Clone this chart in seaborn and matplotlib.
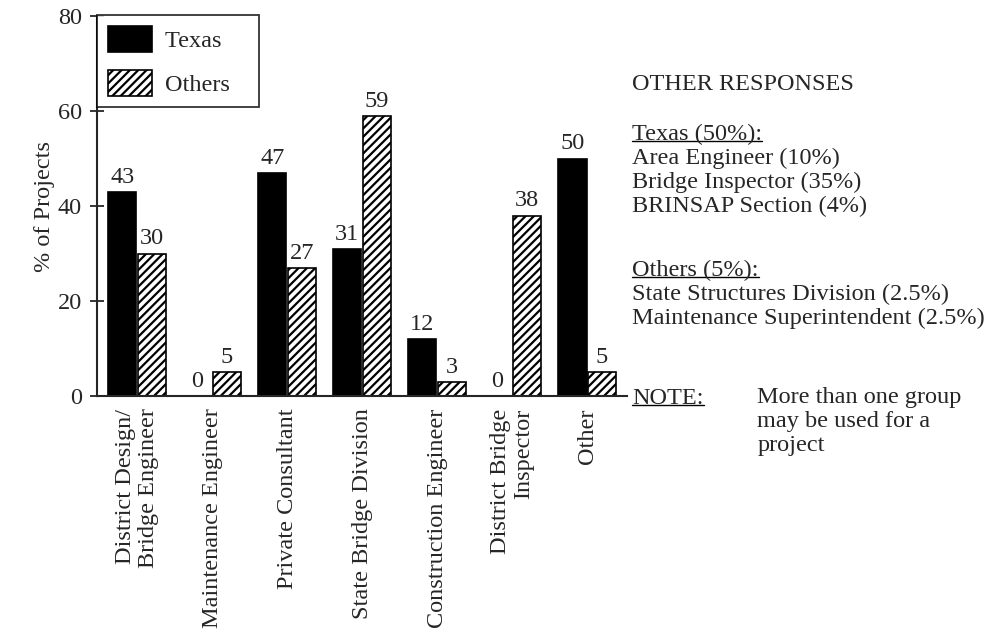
import numpy as np
import pandas as pd
import matplotlib
matplotlib.use("Agg")
import matplotlib.pyplot as plt
import seaborn as sns

# =========================
# DATA
# =========================
categories = [
    "District Design/\nBridge Engineer",
    "Maintenance Engineer",
    "Private Consultant",
    "State Bridge Division",
    "Construction Engineer",
    "District Bridge\nInspector",
    "Other",
]
texas = [43, 0, 47, 31, 12, 0, 50]
others = [30, 5, 27, 59, 3, 38, 5]
groups = ["Texas", "Others"]
y_ticks = [0, 20, 40, 60, 80]

df = pd.DataFrame({
    "category": categories * 2,
    "group": ["Texas"] * len(categories) + ["Others"] * len(categories),
    "value": texas + others,
})

# =========================
# STYLE
# =========================
sns.set_style("ticks")
plt.rcParams["font.family"] = ["Liberation Serif", "DejaVu Serif"]
plt.rcParams["hatch.linewidth"] = 1.6
FS = 17.5

fig = plt.figure(figsize=(9.86, 6.3), dpi=100)
ax = fig.add_axes([0.0984, 0.3714, 0.5376, 0.6032])

sns.barplot(data=df, x="category", y="value", hue="group",
            hue_order=groups, palette=["black", "white"],
            width=0.78, gap=0.04, edgecolor="black", linewidth=1.2,
            saturation=1, ax=ax, legend=True)

# hatch the "Others" bars
for bar in ax.containers[1]:
    bar.set_hatch("////")

for cont in ax.containers:
    ax.bar_label(cont, fmt="%d", fontsize=FS, padding=3)

ax.set_xlim(-0.533, 6.533)
ax.set_ylim(0, 80)
ax.set_yticks(y_ticks)
ax.set_xlabel("")
ax.set_ylabel("% of Projects", fontsize=FS, labelpad=2)
ax.tick_params(axis="y", labelsize=FS, direction="inout", length=10, width=1.3, pad=6)
ax.tick_params(axis="x", length=0, pad=9)
ax.set_xticks(range(len(categories)))
ax.set_xticklabels(categories, rotation=90, fontsize=FS,
                   va="top", ha="center", multialignment="right",
                   linespacing=1.15)
for s in ["top", "right"]:
    ax.spines[s].set_visible(False)
ax.spines["left"].set_linewidth(1.5)
ax.spines["bottom"].set_linewidth(1.5)

leg = ax.get_legend()
handles = leg.legend_handles
leg.remove()
for h in handles:
    h.set_edgecolor("black")
handles[1].set_hatch("////")
leg = ax.legend(handles, [g + "   " for g in groups], loc="upper left",
                bbox_to_anchor=(0.0, 1.003),
                fontsize=FS, frameon=True, fancybox=False, edgecolor="black",
                handlelength=1.8, handleheight=1.25, borderpad=0.45,
                labelspacing=0.75, handletextpad=0.55, borderaxespad=0)
leg.get_frame().set_linewidth(1.3)

# =========================
# SIDE NOTES
# =========================
underline = []
tx = 0.641
def put(x, y_px, s, ul=False):
    t = fig.text(x, 1 - y_px / 630, s, fontsize=FS, va="center", ha="left")
    if ul:
        underline.append(t)
    return t

put(tx, 84, "OTHER RESPONSES")
put(tx, 134, "Texas (50%):", ul=True)
put(tx, 158, "Area Engineer (10%)")
put(tx, 182, "Bridge Inspector (35%)")
put(tx, 206, "BRINSAP Section (4%)")
put(tx, 270, "Others (5%):", ul=True)
put(tx, 294, "State Structures Division (2.5%)")
put(tx, 318, "Maintenance Superintendent (2.5%)")
put(tx, 398, "NOTE:", ul=True)
put(0.768, 398, "More than one group")
put(0.768, 422, "may be used for a")
put(0.768, 446, "project")

fig.canvas.draw()
r = fig.canvas.get_renderer()
for t in underline:
    bb = t.get_window_extent(r).transformed(fig.transFigure.inverted())
    fig.add_artist(plt.Line2D([bb.x0, bb.x1], [bb.y0 + 0.006, bb.y0 + 0.006],
                              color="black", lw=1.0, transform=fig.transFigure))

fig.savefig("out.png", dpi=100, facecolor="white")
